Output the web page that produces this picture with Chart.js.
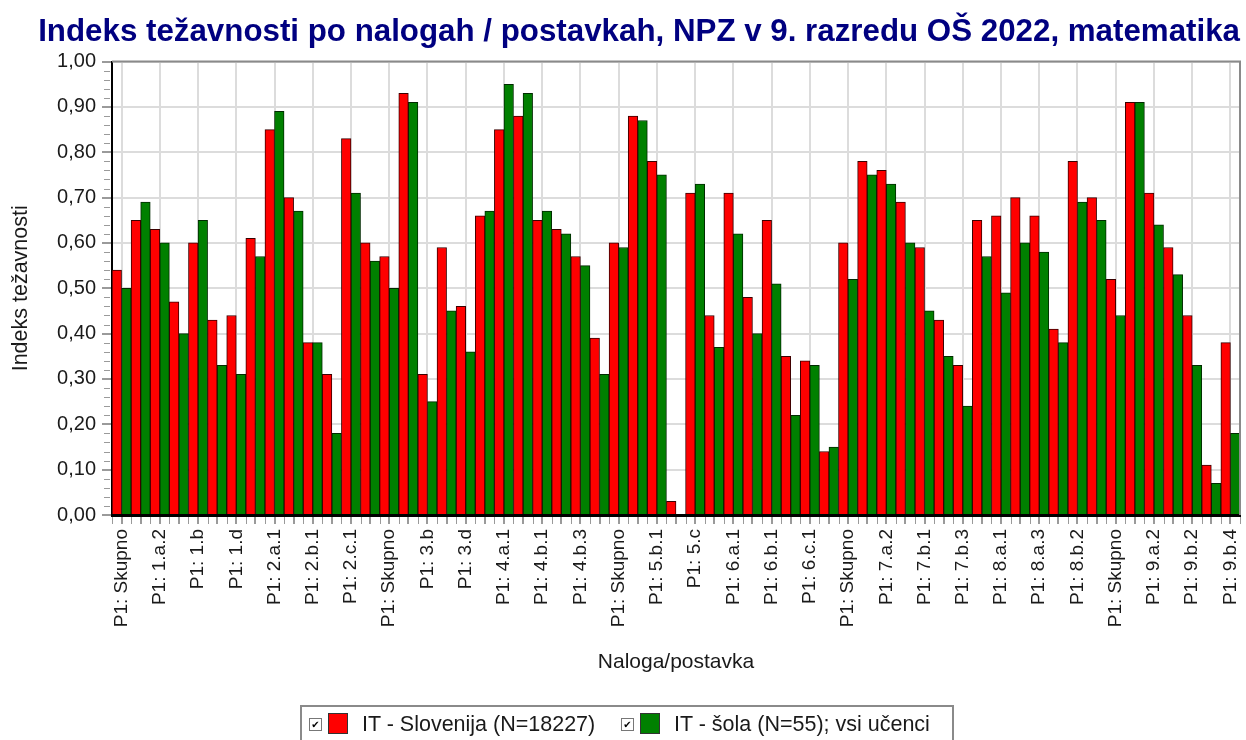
<!DOCTYPE html>
<html>
<head>
<meta charset="utf-8">
<script src="https://cdn.jsdelivr.net/npm/chart.js@4"></script>
<style>
  html, body { margin: 0; padding: 0; background: #fff; }
  #wrap { position: relative; width: 1246px; height: 740px; overflow: hidden; }
  #legend {
    position: absolute; left: 300px; top: 705px; width: 654px; height: 50px;
    border: 2px solid #8a8a8a; box-sizing: border-box;
    font: 21.5px "Liberation Sans", Arial, sans-serif; color: #1a1a1a;
  }
  .item { position: absolute; top: 6px; height: 22px; line-height: 22px; white-space: nowrap; }
  .chk {
    position: absolute; top: 5px; left: 0; width: 11px; height: 11px;
    border: 1px solid #777; background: #fff;
    font: bold 10px/11px "DejaVu Sans", sans-serif; text-align: center; color: #000;
  }
  .sw { position: absolute; top: 0; left: 19px; width: 18px; height: 19px; border: 1px solid #333; }
  .txt { position: absolute; left: 53px; top: 0; }
</style>
</head>
<body>
<div id="wrap">
  <canvas id="chart" width="1246" height="740"></canvas>
  <div id="legend">
    <div class="item" style="left:7px"><span class="chk">✔</span><span class="sw" style="background:#ff0000"></span><span class="txt">IT - Slovenija (N=18227)</span></div>
    <div class="item" style="left:319px"><span class="chk">✔</span><span class="sw" style="background:#008000"></span><span class="txt">IT - šola (N=55); vsi učenci</span></div>
  </div>
</div>
<script>
// categories (only every other one is labelled in the original)
const categories = [
  'P1: Skupno', 'P1: 1.a.1', 'P1: 1.a.2', 'P1: 1.a.3', 'P1: 1.b', 'P1: 1.c', 'P1: 1.d', 'P1: 1.e',
  'P1: 2.a.1', 'P1: 2.a.2', 'P1: 2.b.1', 'P1: 2.b.2', 'P1: 2.c.1', 'P1: 2.c.2',
  'P1: Skupno', 'P1: 3.a', 'P1: 3.b', 'P1: 3.c', 'P1: 3.d', 'P1: 3.e',
  'P1: 4.a.1', 'P1: 4.a.2', 'P1: 4.b.1', 'P1: 4.b.2', 'P1: 4.b.3', 'P1: 4.c',
  'P1: Skupno', 'P1: 5.a', 'P1: 5.b.1', 'P1: 5.b.2', 'P1: 5.c', 'P1: 5.d',
  'P1: 6.a.1', 'P1: 6.a.2', 'P1: 6.b.1', 'P1: 6.b.2', 'P1: 6.c.1', 'P1: 6.c.2',
  'P1: Skupno', 'P1: 7.a.1', 'P1: 7.a.2', 'P1: 7.a.3', 'P1: 7.b.1', 'P1: 7.b.2', 'P1: 7.b.3', 'P1: 7.c',
  'P1: 8.a.1', 'P1: 8.a.2', 'P1: 8.a.3', 'P1: 8.b.1', 'P1: 8.b.2', 'P1: 8.c',
  'P1: Skupno', 'P1: 9.a.1', 'P1: 9.a.2', 'P1: 9.b.1', 'P1: 9.b.2', 'P1: 9.b.3', 'P1: 9.b.4'
];

const slovenija = [
  0.54, 0.65, 0.63, 0.47, 0.60, 0.43, 0.44, 0.61, 0.85, 0.70,
  0.38, 0.31, 0.83, 0.60, 0.57, 0.93, 0.31, 0.59, 0.46, 0.66,
  0.85, 0.88, 0.65, 0.63, 0.57, 0.39, 0.60, 0.88, 0.78, 0.03,
  0.71, 0.44, 0.71, 0.48, 0.65, 0.35, 0.34, 0.14, 0.60, 0.78,
  0.76, 0.69, 0.59, 0.43, 0.33, 0.65, 0.66, 0.70, 0.66, 0.41,
  0.78, 0.70, 0.52, 0.91, 0.71, 0.59, 0.44, 0.11, 0.38
];

const sola = [
  0.50, 0.69, 0.60, 0.40, 0.65, 0.33, 0.31, 0.57, 0.89, 0.67,
  0.38, 0.18, 0.71, 0.56, 0.50, 0.91, 0.25, 0.45, 0.36, 0.67,
  0.95, 0.93, 0.67, 0.62, 0.55, 0.31, 0.59, 0.87, 0.75, 0.00,
  0.73, 0.37, 0.62, 0.40, 0.51, 0.22, 0.33, 0.15, 0.52, 0.75,
  0.73, 0.60, 0.45, 0.35, 0.24, 0.57, 0.49, 0.60, 0.58, 0.38,
  0.69, 0.65, 0.44, 0.91, 0.64, 0.53, 0.33, 0.07, 0.18
];

const yMinorStep = 0.02;
const FONT = '"Liberation Sans", Arial, sans-serif';

// grey frame on top/right, minor ticks on both axes
const frameAndTicks = {
  id: 'frameAndTicks',
  afterDraw(chart) {
    const { ctx, chartArea: a, scales: { x, y } } = chart;
    ctx.save();
    ctx.strokeStyle = '#8a8a8a';
    ctx.lineWidth = 2;
    ctx.beginPath();
    ctx.moveTo(a.left, a.top); ctx.lineTo(a.right, a.top); ctx.lineTo(a.right, a.bottom);
    ctx.stroke();

    ctx.strokeStyle = '#9a9a9a';
    ctx.lineWidth = 1;
    // x: ticks at bar boundaries between categories
    for (let i = 0; i <= categories.length; i++) {
      const px = Math.round(x.getPixelForValue(i - 0.5)) + 0.5;
      ctx.beginPath(); ctx.moveTo(px, a.bottom + 2); ctx.lineTo(px, a.bottom + 9); ctx.stroke();
    }
    // y: minor ticks
    for (let v = 0; v <= 1.0001; v += yMinorStep) {
      const py = Math.round(y.getPixelForValue(v)) + 0.5;
      ctx.beginPath(); ctx.moveTo(a.left - 8, py); ctx.lineTo(a.left - 2, py); ctx.stroke();
    }
    ctx.restore();
  }
};

new Chart(document.getElementById('chart'), {
  type: 'bar',
  data: {
    labels: categories,
    datasets: [
      { label: 'IT - Slovenija (N=18227)', data: slovenija, backgroundColor: '#ff0000', borderColor: '#3a0000', borderWidth: 1 },
      { label: 'IT - šola (N=55); vsi učenci', data: sola, backgroundColor: '#008000', borderColor: '#002a00', borderWidth: 1 }
    ]
  },
  options: {
    responsive: false,
    animation: false,
    layout: { padding: { left: 0, right: 6, top: 0, bottom: 0 } },
    datasets: { bar: { categoryPercentage: 1.0, barPercentage: 1.0 } },
    plugins: {
      legend: { display: false },
      tooltip: { enabled: false },
      title: {
        display: true,
        align: 'end',
        text: 'Indeks težavnosti po nalogah / postavkah, NPZ v 9. razredu OŠ 2022, matematika',
        color: '#000080',
        font: { family: FONT, size: 31.3, weight: 'bold' },
        padding: { top: 14, bottom: 10 }
      }
    },
    scales: {
      x: {
        grid: {
          offset: false,
          lineWidth: 2,
          color: c => (c.index % 2 === 0 ? '#dcdcdc' : 'rgba(0,0,0,0)'),
          tickColor: '#9a9a9a',
          tickLength: 9
        },
        border: { color: '#000', width: 3 },
        ticks: {
          autoSkip: false,
          minRotation: 90,
          maxRotation: 90,
          padding: 5,
          color: '#1a1a1a',
          font: { family: FONT, size: 19 },
          callback(value, index) { return index % 2 === 0 ? categories[index] : ''; }
        },
        title: {
          display: true,
          text: 'Naloga/postavka',
          color: '#1a1a1a',
          font: { family: FONT, size: 21 },
          padding: { top: 0, bottom: 65 }
        },
        afterFit(s) { s.height = 740 - 515; s.paddingLeft = 0; s.paddingRight = 0; }
      },
      y: {
        min: 0,
        max: 1,
        ticks: {
          stepSize: 0.1,
          padding: 6,
          color: '#1a1a1a',
          font: { family: FONT, size: 20 },
          callback: v => v.toFixed(2).replace('.', ',')
        },
        grid: { color: '#dcdcdc', lineWidth: 2, tickColor: '#9a9a9a', tickLength: 10 },
        border: { color: '#000', width: 2 },
        title: {
          display: true,
          text: 'Indeks težavnosti',
          color: '#1a1a1a',
          font: { family: FONT, size: 21.5 },
          padding: { top: 8, bottom: 0 }
        },
        afterFit(s) { s.width = 112; }
      }
    }
  },
  plugins: [frameAndTicks]
});
</script>
</body>
</html>
